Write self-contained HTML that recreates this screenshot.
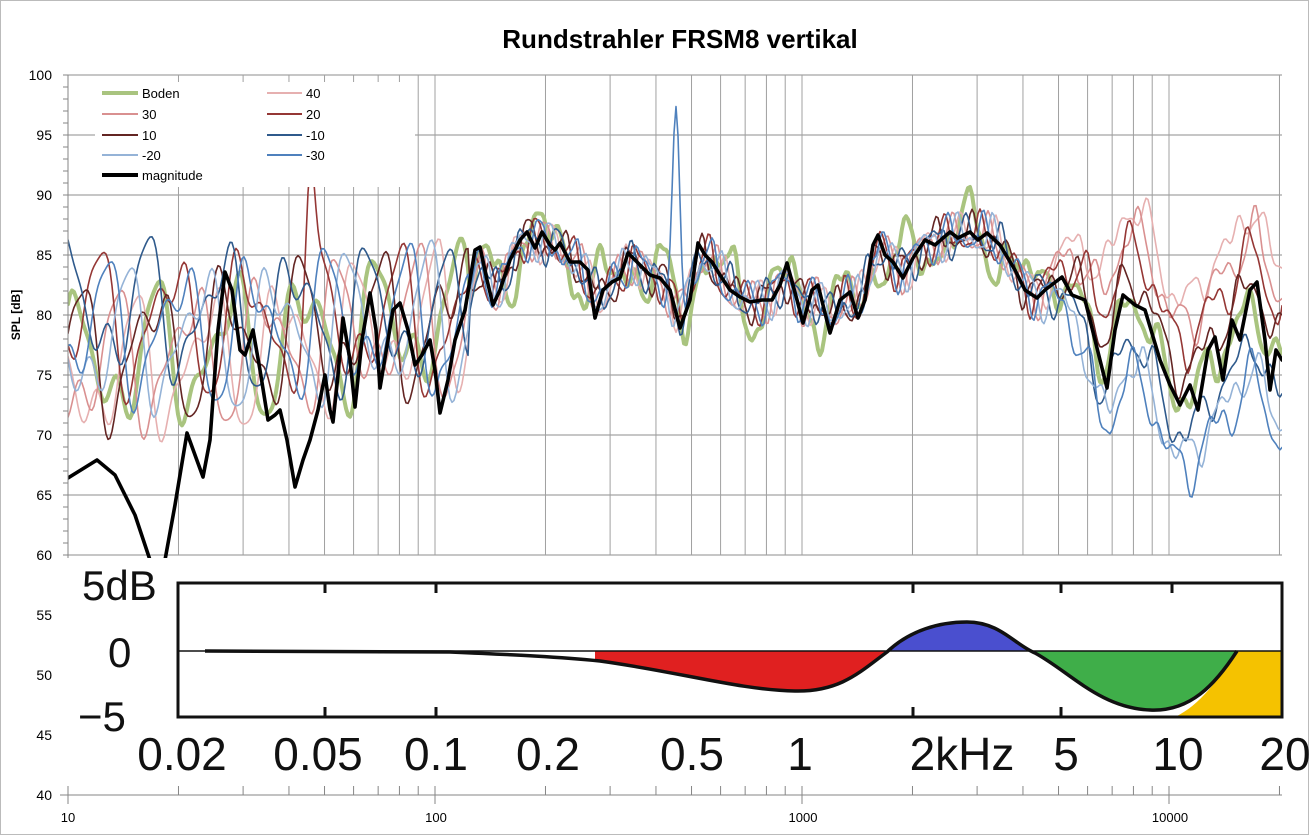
<!DOCTYPE html>
<html><head><meta charset="utf-8"><style>
html,body{margin:0;padding:0;background:#fff;}
svg{display:block;font-family:"Liberation Sans",sans-serif;}
</style></head><body>
<svg id="s" width="1309" height="835" viewBox="0 0 1309 835" xmlns="http://www.w3.org/2000/svg">
<rect width="1309" height="835" fill="#fff"/>
<rect x="0.5" y="0.5" width="1308" height="834" fill="none" stroke="#bbb"/>
<text x="680" y="48" font-size="26" font-weight="bold" text-anchor="middle" fill="#000">Rundstrahler FRSM8 vertikal</text>
<text transform="translate(20,315) rotate(-90)" font-size="12" font-weight="bold" text-anchor="middle">SPL [dB]</text>
<g id="grid" stroke="#8c8c8c" stroke-width="1"></g>
<g id="ylab" font-size="14" text-anchor="end" fill="#000"></g>
<g font-size="13" text-anchor="middle" fill="#000">
<text x="68" y="822">10</text><text x="436" y="822">100</text><text x="803" y="822">1000</text><text x="1170" y="822">10000</text>
</g>
<defs>
<clipPath id="cp"><rect x="68" y="75" width="1214" height="483"/></clipPath>
<clipPath id="cr"><rect x="595" y="640" width="295" height="80"/></clipPath>
<clipPath id="cb"><rect x="890" y="600" width="143" height="51"/></clipPath>
<clipPath id="cg"><rect x="1036" y="651" width="205" height="70"/></clipPath>
</defs>
<g id="series" clip-path="url(#cp)" fill="none" stroke-linejoin="round" stroke-linecap="round"></g>
<rect x="95" y="82" width="320" height="105" fill="#fff"/>
<g font-size="13" fill="#000">
<line x1="102" y1="93" x2="138" y2="93" stroke="#a9c47f" stroke-width="4"/><text x="142" y="98">Boden</text>
<line x1="267" y1="93" x2="302" y2="93" stroke="#e6b0b0" stroke-width="2"/><text x="306" y="98">40</text>
<line x1="102" y1="114" x2="138" y2="114" stroke="#d99090" stroke-width="2"/><text x="142" y="119">30</text>
<line x1="267" y1="114" x2="302" y2="114" stroke="#953735" stroke-width="2"/><text x="306" y="119">20</text>
<line x1="102" y1="135" x2="138" y2="135" stroke="#632523" stroke-width="2"/><text x="142" y="140">10</text>
<line x1="267" y1="135" x2="302" y2="135" stroke="#2f5a8c" stroke-width="2"/><text x="306" y="140">-10</text>
<line x1="102" y1="155" x2="138" y2="155" stroke="#95b3d7" stroke-width="2"/><text x="142" y="160">-20</text>
<line x1="267" y1="155" x2="302" y2="155" stroke="#4f81bd" stroke-width="2"/><text x="306" y="160">-30</text>
<line x1="102" y1="175" x2="138" y2="175" stroke="#000" stroke-width="4"/><text x="142" y="180">magnitude</text>
</g>
<rect x="58" y="558" width="1230" height="228" fill="#fff"/>
<g fill="#111">
<text x="82" y="600" font-size="42">5dB</text>
<text x="108" y="667" font-size="42">0</text>
<text x="78" y="731" font-size="42">−5</text>
</g>
<path clip-path="url(#cr)" fill="#e02020" d="M205,651 L450,652 C520,655 560,657 600,661 C680,672 740,690 795,691 C840,692 860,672 887,652 C910,630 940,622 967,622 C1000,622 1015,645 1035,653 C1070,672 1100,708 1150,710 C1190,712 1215,685 1237,651 Z"/>
<path clip-path="url(#cb)" fill="#4a4fcf" d="M205,651 L450,652 C520,655 560,657 600,661 C680,672 740,690 795,691 C840,692 860,672 887,652 C910,630 940,622 967,622 C1000,622 1015,645 1035,653 C1070,672 1100,708 1150,710 C1190,712 1215,685 1237,651 Z"/>
<path clip-path="url(#cg)" fill="#3fae49" d="M205,651 L450,652 C520,655 560,657 600,661 C680,672 740,690 795,691 C840,692 860,672 887,652 C910,630 940,622 967,622 C1000,622 1015,645 1035,653 C1070,672 1100,708 1150,710 C1190,712 1215,685 1237,651 Z"/>
<path fill="#f5c200" d="M1175,717 C1200,705 1218,680 1237,651 L1282,651 L1282,717 Z"/>
<g stroke="#111" fill="none">
<rect x="178" y="583" width="1104" height="134" stroke-width="3"/>
<line x1="178" y1="651" x2="1282" y2="651" stroke-width="1.5"/>
<path d="M205,651 L450,652 C520,655 560,657 600,661 C680,672 740,690 795,691 C840,692 860,672 887,652 C910,630 940,622 967,622 C1000,622 1015,645 1035,653 C1070,672 1100,708 1150,710 C1190,712 1215,685 1237,651" stroke-width="3.5"/>
<g stroke-width="3">
<line x1="325" y1="583" x2="325" y2="593"/><line x1="436" y1="583" x2="436" y2="593"/><line x1="913" y1="583" x2="913" y2="593"/><line x1="1061" y1="583" x2="1061" y2="593"/><line x1="1172" y1="583" x2="1172" y2="593"/>
<line x1="325" y1="707" x2="325" y2="717"/><line x1="436" y1="707" x2="436" y2="717"/><line x1="913" y1="707" x2="913" y2="717"/><line x1="1061" y1="707" x2="1061" y2="717"/>
</g></g>
<g font-size="46" fill="#111" text-anchor="middle">
<text x="182" y="770">0.02</text><text x="318" y="770">0.05</text><text x="436" y="770">0.1</text><text x="548" y="770">0.2</text><text x="692" y="770">0.5</text><text x="800" y="770">1</text><text x="962" y="770">2kHz</text><text x="1066" y="770">5</text><text x="1178" y="770">10</text><text x="1285" y="770">20</text>
</g>
<g id="axes" stroke="#868686" stroke-width="1"></g>
</svg>
<script>
(function(){
var NS="http://www.w3.org/2000/svg";
function el(p,t,a){var e=document.createElementNS(NS,t);for(var k in a)e.setAttribute(k,a[k]);p.appendChild(e);return e;}
function X(f){return 68+367*Math.log10(f/10);}
var grid=document.getElementById('grid'),ax=document.getElementById('axes'),yl=document.getElementById('ylab');
for(var d=100;d>=60;d-=5){var y=75+(100-d)*12;el(grid,'line',{x1:68,x2:1282,y1:y,y2:y});}
for(var d=100;d>=40;d-=5){var y=75+(100-d)*12;var t=el(yl,'text',{x:52,y:y+5});t.textContent=d;}
var fs=[];[10,100,1000,10000].forEach(function(b){for(var m=1;m<=9;m++){var f=b*m;if(f<=20000)fs.push(f);}});fs.push(20000);
fs.forEach(function(f){var x=X(f);var maj=(f==10||f==100||f==1000||f==10000);if(f>10)el(grid,'line',{x1:x,x2:x,y1:75,y2:555,stroke:'#a0a0a0'});el(ax,'line',{x1:x,x2:x,y1:786,y2:maj?804:795});});
el(ax,'line',{x1:68,x2:1282,y1:795,y2:795});
el(ax,'line',{x1:68,x2:68,y1:75,y2:558});el(ax,'line',{x1:68,x2:68,y1:786,y2:795});
for(var d=100;d>=60;d--){var y=75+(100-d)*12;el(ax,'line',{x1:63,x2:68,y1:y,y2:y});}
el(ax,'line',{x1:60,x2:68,y1:795,y2:795});
var B=[[68,478],[97,460],[115,475],[135,515],[150,560],[155,600],[165,560],[175,505],[187,433],[195,455],[203,477],[210,440],[218,330],[225,272],[232,290],[240,350],[245,355],[253,330],[260,370],[268,420],[275,415],[280,410],[287,440],[295,487],[303,460],[310,440],[318,410],[325,375],[330,410],[333,422],[338,375],[343,318],[350,360],[355,407],[362,340],[370,293],[376,330],[380,388],[388,340],[393,310],[400,303],[408,330],[415,365],[422,355],[430,340],[435,370],[440,413],[448,380],[455,340],[465,310],[475,250],[480,247],[487,280],[493,305],[500,290],[510,260],[520,240],[527,232],[535,248],[542,232],[550,245],[555,250],[560,243],[570,262],[580,262],[588,270],[595,318],[603,290],[612,282],[620,278],[628,253],[640,265],[650,275],[660,278],[670,290],[680,328],[690,300],[698,243],[705,255],[712,262],[720,275],[730,290],[740,297],[750,302],[762,300],[772,300],[780,285],[787,263],[797,300],[803,323],[812,290],[818,285],[830,333],[840,300],[850,292],[858,318],[865,300],[873,245],[878,235],[885,255],[893,262],[903,278],[913,258],[925,240],[935,245],[950,232],[958,238],[970,232],[978,240],[987,233],[1000,245],[1015,270],[1025,290],[1037,298],[1045,290],[1062,277],[1072,295],[1085,300],[1095,340],[1107,388],[1115,330],[1123,295],[1135,305],[1145,310],[1160,360],[1170,385],[1180,405],[1190,385],[1198,410],[1208,350],[1215,337],[1223,380],[1232,320],[1240,340],[1250,290],[1257,282],[1265,340],[1270,390],[1276,350],[1282,360]];
function interp(x){for(var i=1;i<B.length;i++){if(B[i][0]>=x){var a=B[i-1],b=B[i];var t=(x-a[0])/(b[0]-a[0]||1);return a[1]+t*(b[1]-a[1]);}}return B[B.length-1][1];}
function smooth(x){var s=0,n=0;for(var k=-10;k<=10;k+=2){s+=interp(x+k);n++;}return s/n;}
var ser=[
 {c:'#a9c47f',w:4,ph:0.3,hf:0,sd:1,lo:-2},
 {c:'#e6b0b0',w:1.6,ph:1.7,hf:8,sd:2,lo:-3},
 {c:'#d99090',w:1.6,ph:2.9,hf:6,sd:3,lo:-2},
 {c:'#953735',w:1.6,ph:4.1,hf:4.5,sd:4,lo:2},
 {c:'#632523',w:1.6,ph:5.3,hf:2,sd:5,lo:-1},
 {c:'#2f5a8c',w:1.6,ph:0.9,hf:-3,sd:6,lo:3},
 {c:'#95b3d7',w:1.6,ph:2.2,hf:-5,sd:7,lo:0},
 {c:'#4f81bd',w:1.6,ph:3.6,hf:-6,sd:8,lo:1}
];
var g=document.getElementById('series');
ser.forEach(function(s){
 var pts=[],p1=s.ph*1.3,p2=s.ph*2.1,p3=s.ph*3.7;
 for(var x=68;x<=1283;x+=2){
  var lam=x<470?75:(x<1040?34:40);
  p1+=2*2*Math.PI/lam;p2+=2*2*Math.PI/(lam*0.57);p3+=2*2*Math.PI/(lam*0.33);
  var cen;
  var lo=s.lo*Math.max(0,(440-x)/372);
  if(x<440){cen=77.5+(x-68)/372*2+lo;}
  else if(x<480){var t=(x-440)/40;cen=(1-t)*79.5+t*(100-(smooth(x)-75)/12);}
  else{cen=100-(smooth(x)-75)/12;}
  var amp=x<470?7:(x<1040?2:2.2);
  var n=amp*(0.65*Math.sin(p1)+0.35*Math.sin(p2)+0.15*Math.sin(p3));
  var hf=0;if(x>1040)hf=s.hf*Math.min(1,(x-1040)/70);
  var dbv=cen+n+hf;
  if(s.sd==8){dbv+=15*Math.exp(-Math.pow((x-676)/5,2));}
  if(s.sd==4){dbv+=8*Math.exp(-Math.pow((x-310)/6,2));}
  if(s.sd==1&&x>470&&x<1040){dbv+=2.5*Math.sin(x*2*Math.PI/60+1);}
  var y=75+(100-dbv)*12;pts.push(x+','+y.toFixed(1));
 }
 el(g,'polyline',{points:pts.join(' '),stroke:s.c,'stroke-width':s.w});
});
el(g,'polyline',{points:B.map(function(p){return p[0]+','+p[1];}).join(' '),stroke:'#000','stroke-width':3.6});
})();
</script>
</body></html>
